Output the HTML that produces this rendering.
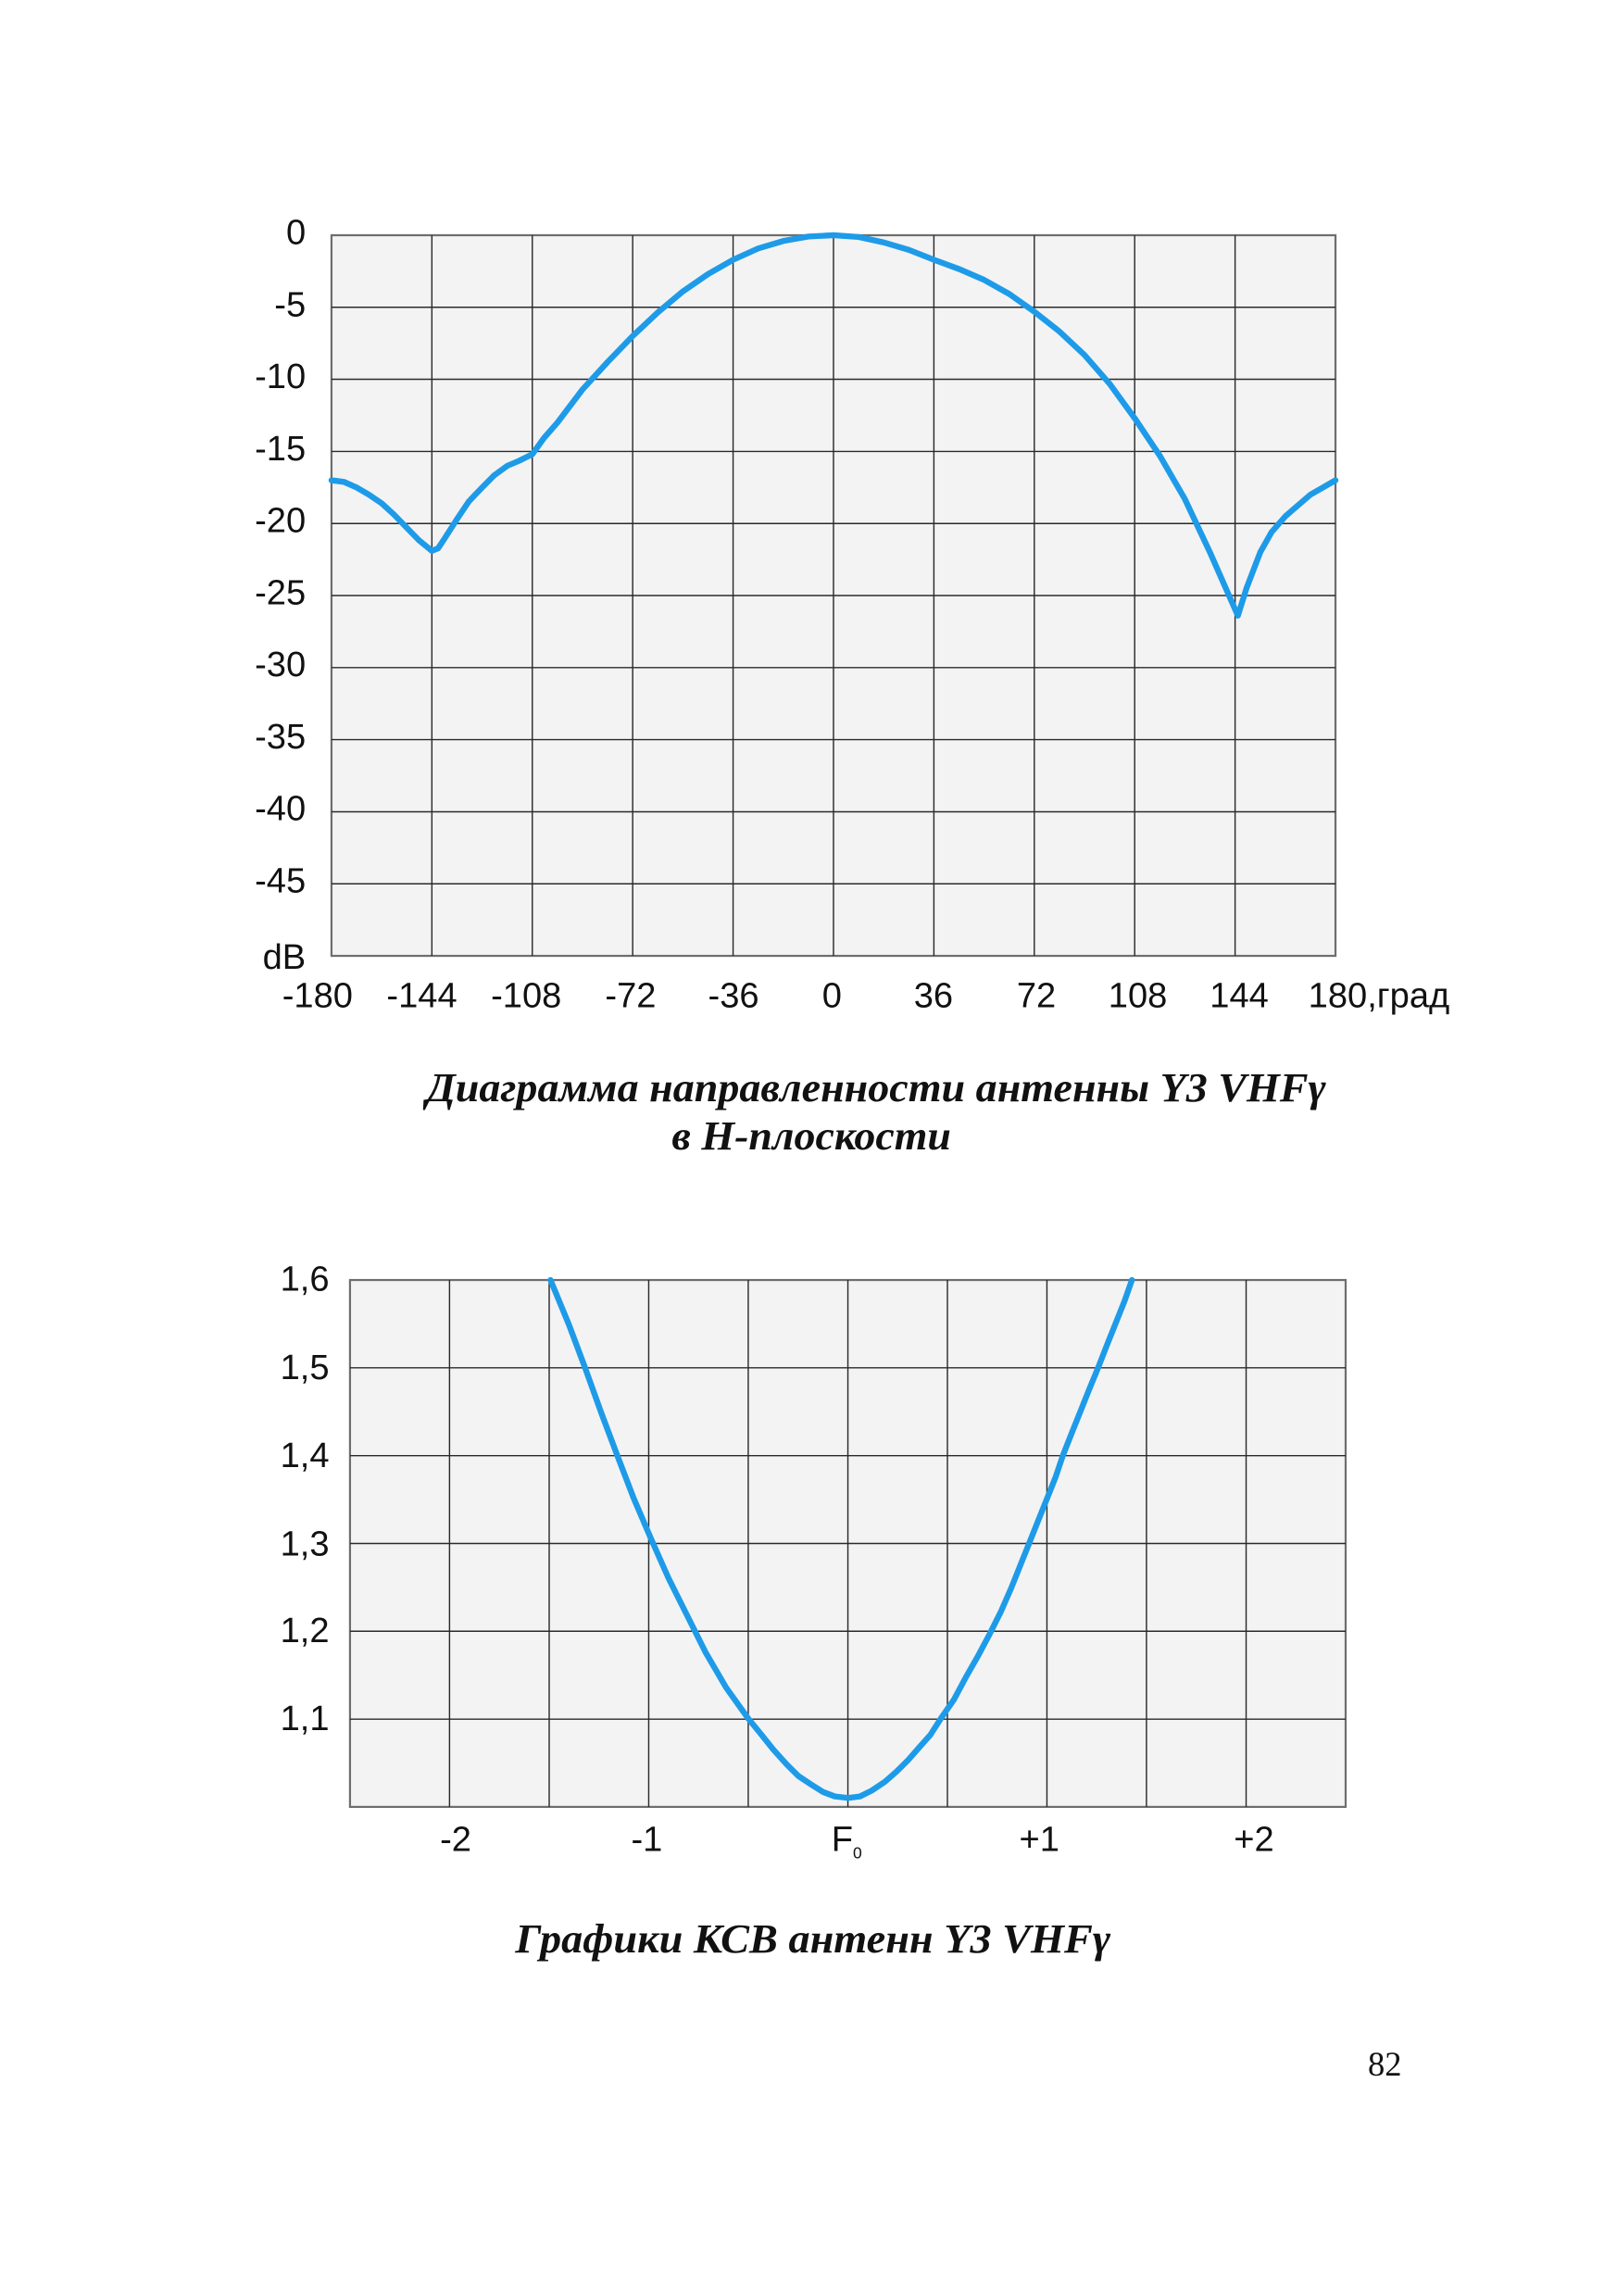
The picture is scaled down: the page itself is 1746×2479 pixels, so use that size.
<!DOCTYPE html>
<html><head><meta charset="utf-8"><style>
html,body{margin:0;padding:0;background:#fff;}
svg{display:block;}
</style></head><body>
<svg width="1746" height="2479" viewBox="0 0 1100 1561.8" xmlns="http://www.w3.org/2000/svg" font-family="Liberation Sans, Arial, sans-serif">
<!-- Chart 1 -->
<rect x="225.5" y="160" width="683" height="490.2" fill="#f3f3f3" stroke="#6e6e6e" stroke-width="1.4"/>
<g stroke="#2a2a2a" stroke-width="0.9">
<line x1="293.8" y1="160" x2="293.8" y2="650.2"/><line x1="362.1" y1="160" x2="362.1" y2="650.2"/>
<line x1="430.4" y1="160" x2="430.4" y2="650.2"/><line x1="498.7" y1="160" x2="498.7" y2="650.2"/>
<line x1="567" y1="160" x2="567" y2="650.2"/><line x1="635.3" y1="160" x2="635.3" y2="650.2"/>
<line x1="703.6" y1="160" x2="703.6" y2="650.2"/><line x1="771.9" y1="160" x2="771.9" y2="650.2"/>
<line x1="840.2" y1="160" x2="840.2" y2="650.2"/>
<line x1="225.5" y1="209" x2="908.5" y2="209"/><line x1="225.5" y1="258" x2="908.5" y2="258"/>
<line x1="225.5" y1="307.1" x2="908.5" y2="307.1"/><line x1="225.5" y1="356.1" x2="908.5" y2="356.1"/>
<line x1="225.5" y1="405.1" x2="908.5" y2="405.1"/><line x1="225.5" y1="454.1" x2="908.5" y2="454.1"/>
<line x1="225.5" y1="503.1" x2="908.5" y2="503.1"/><line x1="225.5" y1="552.2" x2="908.5" y2="552.2"/>
<line x1="225.5" y1="601.2" x2="908.5" y2="601.2"/>
</g>
<polyline fill="none" stroke="#1e9be8" stroke-width="4" stroke-linejoin="round" stroke-linecap="round"
points="225.5,326.7 234,327.8 242.6,331.6 251,336.5 259.7,342.4 268,350 276.7,359 285,367.5 293.8,374.7 298,373 302,367 310.9,353.1 319,341 328,331.6 336,323.5 345,316.9 353,313.5 362.1,309 370,298 379.2,287.5 396.3,264.9 413.3,246.3 430.4,228.6 447.5,212.5 464.6,198.2 481.6,186.5 498.7,176.7 515.8,169 532.9,163.9 550,160.9 567,160 584.1,161.2 601.2,164.9 618.3,170 635.3,176.7 652.4,183 669.5,190.4 686.6,200 703.6,212 720.7,225.5 737.7,241.4 754.8,261 771.9,284.5 789,310 806,339.4 823.1,375.7 842.1,418.8 848,400 857.3,375.7 865,362 874.4,351.2 891.4,336.5 908.5,326.7"/>
<g font-size="24" fill="#111" text-anchor="end">
<text x="208" y="166">0</text><text x="208" y="215">-5</text><text x="208" y="264">-10</text>
<text x="208" y="313">-15</text><text x="208" y="362">-20</text><text x="208" y="411">-25</text>
<text x="208" y="460">-30</text><text x="208" y="509">-35</text><text x="208" y="558">-40</text>
<text x="208" y="607">-45</text><text x="208" y="659">dB</text>
</g>
<g font-size="24" fill="#111" text-anchor="middle">
<text x="216" y="685">-180</text><text x="287" y="685">-144</text><text x="358" y="685">-108</text>
<text x="429" y="685">-72</text><text x="499" y="685">-36</text><text x="566" y="685">0</text>
<text x="635" y="685">36</text><text x="705" y="685">72</text><text x="774" y="685">108</text>
<text x="843" y="685">144</text><text x="890" y="685" text-anchor="start">180,град</text>
</g>
<g font-family="Liberation Serif, serif" font-weight="bold" font-style="italic" font-size="28" fill="#111" text-anchor="middle">
<text x="596" y="749" textLength="612" lengthAdjust="spacingAndGlyphs">Диаграмма направленности антенны Y3 VHFγ</text>
<text x="552" y="782" textLength="190" lengthAdjust="spacingAndGlyphs">в Н-плоскости</text>
</g>
<!-- Chart 2 -->
<rect x="238.1" y="870.7" width="677.3" height="358.4" fill="#f3f3f3" stroke="#6e6e6e" stroke-width="1.4"/>
<g stroke="#2a2a2a" stroke-width="0.9">
<line x1="305.8" y1="870.7" x2="305.8" y2="1229.1"/><line x1="373.6" y1="870.7" x2="373.6" y2="1229.1"/>
<line x1="441.3" y1="870.7" x2="441.3" y2="1229.1"/><line x1="509" y1="870.7" x2="509" y2="1229.1"/>
<line x1="576.8" y1="870.7" x2="576.8" y2="1229.1"/><line x1="644.5" y1="870.7" x2="644.5" y2="1229.1"/>
<line x1="712.2" y1="870.7" x2="712.2" y2="1229.1"/><line x1="779.9" y1="870.7" x2="779.9" y2="1229.1"/>
<line x1="847.7" y1="870.7" x2="847.7" y2="1229.1"/>
<line x1="238.1" y1="930.4" x2="915.4" y2="930.4"/><line x1="238.1" y1="990.2" x2="915.4" y2="990.2"/>
<line x1="238.1" y1="1049.9" x2="915.4" y2="1049.9"/><line x1="238.1" y1="1109.6" x2="915.4" y2="1109.6"/>
<line x1="238.1" y1="1169.4" x2="915.4" y2="1169.4"/>
</g>
<polyline fill="none" stroke="#1e9be8" stroke-width="4" stroke-linejoin="round" stroke-linecap="round"
points="374.5,870.7 387,901 398,930.4 409,961 420,990.2 431,1019 443,1047 455,1074 468,1100 480,1124 494,1148 509,1169 518,1180 526,1190 535,1200 543,1208 552,1214 560,1219 568,1222 577,1223 585,1222 593,1218 602,1212 610,1205 618,1197 625,1189 633,1180 640,1169 649,1156 657,1141 665,1127 673,1112 681,1096 688,1080 694,1065 700,1050 706,1035 712,1020 718,1005 723,990.2 729,975 735,960 741,945 747,930.4 753,915 759,900 765,885 770,870.7"/>
<g font-size="24" fill="#111" text-anchor="end">
<text x="224" y="878">1,6</text><text x="224" y="938">1,5</text><text x="224" y="998">1,4</text>
<text x="224" y="1058">1,3</text><text x="224" y="1117">1,2</text><text x="224" y="1177">1,1</text>
</g>
<g font-size="24" fill="#111" text-anchor="middle">
<text x="310" y="1259">-2</text><text x="440" y="1259">-1</text>
<text x="576" y="1259">F<tspan font-size="11" dy="5">0</tspan></text>
<text x="707" y="1259">+1</text><text x="853" y="1259">+2</text>
</g>
<text x="553" y="1328" font-family="Liberation Serif, serif" font-weight="bold" font-style="italic" font-size="28" fill="#111" text-anchor="middle" textLength="405" lengthAdjust="spacingAndGlyphs">Графики КСВ антенн Y3 VHFγ</text>
<text x="942" y="1412" font-family="Liberation Serif, serif" font-size="23" fill="#111" text-anchor="middle">82</text>
</svg>
</body></html>
